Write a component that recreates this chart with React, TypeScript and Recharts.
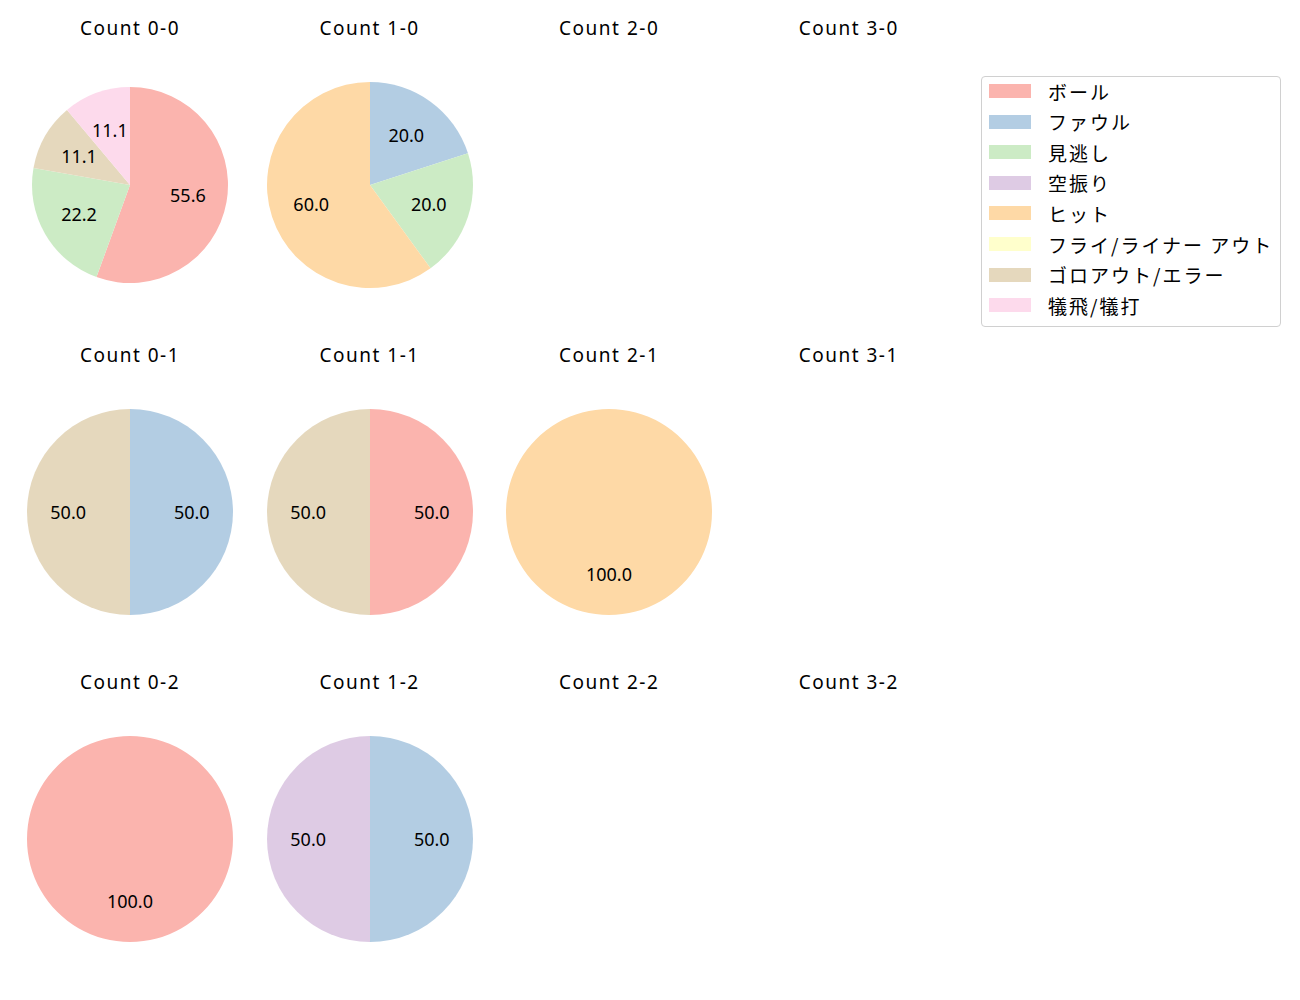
import { PieChart, Pie, Cell } from 'recharts';

const categories = ['ボール', 'ファウル', '見逃し', '空振り', 'ヒット', 'フライ/ライナー アウト', 'ゴロアウト/エラー', '犠飛/犠打'];
const colors = ['#fbb4ae', '#b3cde3', '#ccebc5', '#decbe4', '#fed9a6', '#ffffcc', '#e5d8bd', '#fddaec'];

// pitch counts per situation, same order as categories
const count00 = [5, 0, 2, 0, 0, 0, 1, 1];
const count10 = [0, 1, 1, 0, 3, 0, 0, 0];
const count20: number[] = [];
const count30: number[] = [];
const count01 = [0, 1, 0, 0, 0, 0, 1, 0];
const count11 = [1, 0, 0, 0, 0, 0, 1, 0];
const count21 = [0, 0, 0, 0, 1, 0, 0, 0];
const count31: number[] = [];
const count02 = [1, 0, 0, 0, 0, 0, 0, 0];
const count12 = [0, 1, 0, 1, 0, 0, 0, 0];
const count22: number[] = [];
const count32: number[] = [];

const panels = [
  { title: 'Count 0-0', values: count00, col: 0, row: 0, r: 98 },
  { title: 'Count 1-0', values: count10, col: 1, row: 0, r: 103 },
  { title: 'Count 2-0', values: count20, col: 2, row: 0, r: 103 },
  { title: 'Count 3-0', values: count30, col: 3, row: 0, r: 103 },
  { title: 'Count 0-1', values: count01, col: 0, row: 1, r: 103 },
  { title: 'Count 1-1', values: count11, col: 1, row: 1, r: 103 },
  { title: 'Count 2-1', values: count21, col: 2, row: 1, r: 103 },
  { title: 'Count 3-1', values: count31, col: 3, row: 1, r: 103 },
  { title: 'Count 0-2', values: count02, col: 0, row: 2, r: 103 },
  { title: 'Count 1-2', values: count12, col: 1, row: 2, r: 103 },
  { title: 'Count 2-2', values: count22, col: 2, row: 2, r: 103 },
  { title: 'Count 3-2', values: count32, col: 3, row: 2, r: 103 },
];

const FONT = '"Noto Sans", "Noto Sans CJK JP", sans-serif';
const CJK_FONT = '"Noto Sans CJK JP", "Noto Sans", sans-serif';
const RAD = Math.PI / 180;
const SIZE = 230;

const renderLabel = (props: any) => {
  const { cx, cy, midAngle, outerRadius, percent } = props;
  const r = outerRadius * 0.6;
  const x = cx + r * Math.cos(-midAngle * RAD);
  const y = cy + r * Math.sin(-midAngle * RAD);
  return (
    <text x={x} y={y} textAnchor="middle" dominantBaseline="central" fill="#000" fontSize={18} fontFamily={FONT}>
      {(percent * 100).toFixed(1)}
    </text>
  );
};

function App() {
  return (
    <div style={{ position: 'absolute', left: 0, top: 0, width: 1300, height: 1000, background: '#fff', fontFamily: FONT }}>
      {panels.map((p) => {
        const cx = 130 + p.col * 239.6;
        const cy = 185 + p.row * 327;
        const data = p.values
          .map((v, i) => ({ name: categories[i], value: v, color: colors[i] }))
          .filter((d) => d.value > 0);
        return (
          <div key={p.title}>
            <div style={{ position: 'absolute', left: cx - 100, top: cy - 170, width: 200, textAlign: 'center', fontSize: 19, letterSpacing: 1.5, color: '#000', lineHeight: '26px' }}>
              {p.title}
            </div>
            {data.length > 0 && (
              <div style={{ position: 'absolute', left: cx - SIZE / 2, top: cy - SIZE / 2 }}>
                <PieChart width={SIZE} height={SIZE} margin={{ top: 0, right: 0, bottom: 0, left: 0 }}>
                  <Pie
                    data={data}
                    dataKey="value"
                    nameKey="name"
                    cx={SIZE / 2}
                    cy={SIZE / 2}
                    outerRadius={p.r}
                    startAngle={90}
                    endAngle={-270}
                    stroke="none"
                    label={renderLabel}
                    labelLine={false}
                    isAnimationActive={false}
                  >
                    {data.map((d) => (
                      <Cell key={d.name} fill={d.color} />
                    ))}
                  </Pie>
                </PieChart>
              </div>
            )}
          </div>
        );
      })}
      <div style={{ position: 'absolute', left: 981, top: 76, width: 298, height: 249, border: '1px solid #d0d0d0', borderRadius: 4, background: '#fff' }}>
        {categories.map((c, i) => (
          <div key={c} style={{ position: 'absolute', left: 7, top: 6 + i * 30.6, height: 16, display: 'flex', alignItems: 'center' }}>
            <div style={{ width: 42, height: 14, background: colors[i] }} />
            <span style={{ marginLeft: 17, fontSize: 19, fontFamily: CJK_FONT, color: '#000', whiteSpace: 'nowrap', letterSpacing: 2 }}>{c}</span>
          </div>
        ))}
      </div>
    </div>
  );
}

export default App;
